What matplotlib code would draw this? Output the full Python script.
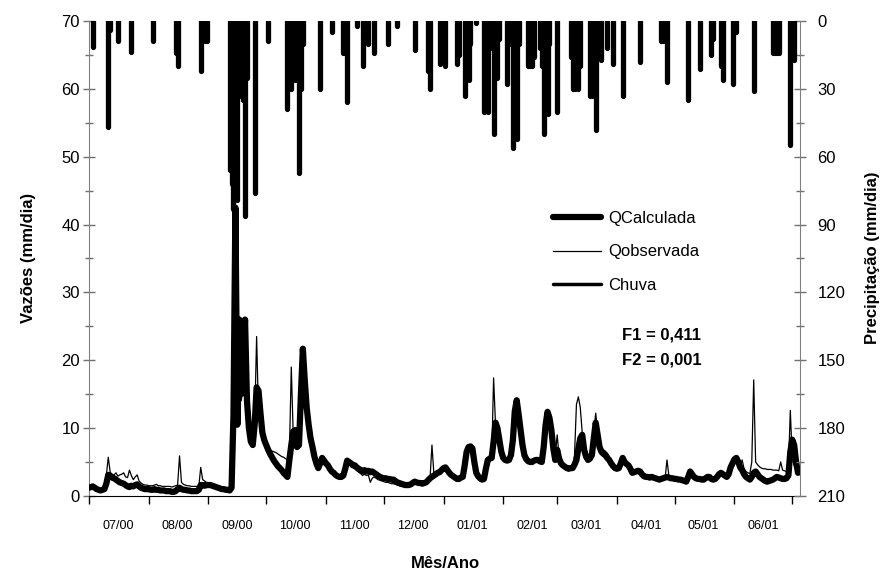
import numpy as np
import pandas as pd
import matplotlib
matplotlib.use("Agg")
import matplotlib.pyplot as plt
import matplotlib.dates as mdates
from matplotlib.lines import Line2D
from matplotlib.ticker import MultipleLocator, NullFormatter

plt.rcParams['font.family'] = ['Liberation Sans', 'DejaVu Sans']

inicio = '2000-07-01'

# vazao calculada (mm/dia), um valor por dia a partir de 01/07/2000
q_calc = [
    1.2, 1.3, 1.4, 1.2, 1.0, 0.9, 0.8, 0.9, 1.0, 1.8, 3.1, 3.0, 2.7, 2.6, 2.4, 2.2, 2.0, 1.9, 1.8, 1.6, 1.4, 1.3, 1.5, 1.4, 1.6, 1.7, 1.4, 1.2, 1.1, 1.0, 1.0,
    1.0, 0.9, 0.9, 1.0, 0.9, 0.9, 0.8, 0.8, 0.8, 0.7, 0.7, 0.7, 0.6, 0.6, 0.7, 1.0, 1.2, 1.0, 0.9, 0.9, 0.8, 0.8, 0.7, 0.7, 0.7, 0.7, 0.9, 1.6, 1.6, 1.5, 1.6,
    1.6, 1.6, 1.5, 1.4, 1.3, 1.2, 1.1, 1.0, 1.0, 0.9, 0.9, 0.8, 1.2, 12.0, 42.5, 10.5, 26.0, 15.0, 17.0, 26.0, 14.0, 10.0, 8.0, 7.5, 10.5, 16.0, 15.5, 12.2, 9.3, 8.2,
    7.5, 6.8, 6.2, 5.7, 5.2, 4.8, 4.4, 4.1, 3.8, 3.4, 3.1, 2.8, 5.3, 7.5, 9.5, 9.7, 7.2, 7.5, 15.0, 21.7, 17.0, 13.0, 10.5, 8.5, 7.2, 5.8, 4.8, 4.1, 4.8, 5.6, 5.2,
    4.8, 4.5, 4.0, 3.6, 3.4, 3.1, 2.9, 2.8, 2.8, 3.0, 4.0, 5.2, 5.0, 4.8, 4.5, 4.5, 4.2, 4.0, 3.8, 3.6, 3.8, 3.6, 3.7, 3.5, 3.6, 3.4, 3.2, 3.0, 2.8, 2.7,
    2.6, 2.6, 2.5, 2.5, 2.4, 2.4, 2.2, 2.0, 1.9, 1.8, 1.7, 1.6, 1.6, 1.6, 1.7, 1.9, 2.1, 2.0, 1.9, 1.9, 1.8, 1.9, 2.0, 2.3, 2.6, 2.8, 3.0, 3.2, 3.4, 3.5, 3.8,
    4.1, 4.2, 3.8, 3.4, 3.1, 2.9, 2.7, 2.5, 2.5, 2.7, 2.8, 4.5, 6.5, 7.2, 7.3, 7.0, 5.0, 3.4, 2.9, 2.6, 2.4, 2.5, 4.0, 5.3, 5.5, 5.6, 8.0, 10.8, 10.0, 8.2, 6.5,
    5.6, 5.3, 5.2, 5.3, 6.0, 8.2, 12.5, 14.1, 12.0, 9.7, 7.5, 6.0, 5.4, 5.1, 5.0, 5.0, 5.2, 5.3, 5.3, 5.1, 5.0, 7.2, 10.5, 12.4, 11.5, 9.7, 7.0, 5.3,
    6.8, 5.5, 4.8, 4.5, 4.3, 4.1, 4.0, 4.1, 4.1, 4.6, 5.3, 7.0, 8.5, 9.0, 6.8, 5.8, 5.3, 5.5, 6.0, 8.5, 10.8, 9.0, 7.2, 6.5, 6.2, 6.0, 5.6, 5.3, 4.8, 4.4, 4.1,
    4.0, 4.1, 4.8, 5.6, 5.0, 4.7, 4.5, 4.0, 3.4, 3.5, 3.6, 3.7, 3.6, 3.2, 2.9, 2.8, 2.8, 2.7, 2.8, 2.7, 2.6, 2.5, 2.4, 2.5, 2.6, 2.7, 2.8, 2.7, 2.6, 2.6,
    2.5, 2.5, 2.4, 2.4, 2.3, 2.2, 2.1, 2.8, 3.6, 3.2, 2.8, 2.6, 2.5, 2.5, 2.4, 2.4, 2.6, 2.8, 2.8, 2.5, 2.4, 2.5, 2.8, 3.2, 3.4, 3.2, 3.0, 2.8, 3.2, 4.2, 4.8,
    5.4, 5.6, 5.0, 4.2, 3.8, 3.2, 2.8, 2.6, 2.4, 2.8, 3.4, 3.6, 3.2, 2.8, 2.6, 2.4, 2.2, 2.1, 2.2, 2.3, 2.4, 2.6, 2.8, 2.7, 2.6, 2.5, 2.5, 2.6, 3.0, 6.5,
    8.3, 7.5, 5.0, 3.4,
]

# vazao observada (mm/dia)
q_obs = [
    1.3, 1.4, 1.3, 1.1, 1.0, 0.9, 1.0, 1.1, 1.3, 3.0, 5.7, 3.5, 3.0, 3.1, 3.4, 2.9, 3.1, 3.2, 3.4, 2.8, 2.7, 3.8, 3.0, 2.4, 2.8, 3.1, 2.2, 1.9, 1.7, 1.6, 1.6,
    1.5, 1.5, 1.5, 1.6, 1.7, 1.5, 1.5, 1.4, 1.4, 1.4, 1.4, 1.4, 1.3, 1.4, 1.5, 1.6, 5.9, 2.0, 1.7, 1.6, 1.5, 1.5, 1.4, 1.4, 1.4, 1.4, 1.4, 4.2, 2.4, 2.2, 2.0,
    1.9, 1.8, 1.7, 1.6, 1.5, 1.5, 1.4, 1.3, 1.2, 1.2, 1.1, 1.1, 1.5, 9.0, 40.0, 12.0, 25.5, 14.0, 16.0, 25.0, 13.0, 9.5, 8.0, 8.5, 11.0, 23.5, 12.0, 10.0, 9.5, 8.5,
    7.3, 7.0, 6.8, 6.6, 6.5, 6.4, 6.2, 6.0, 5.8, 5.7, 5.5, 5.3, 6.0, 19.0, 9.0, 9.5, 8.0, 9.0, 16.0, 20.5, 16.0, 12.0, 10.0, 8.0, 7.0, 5.8, 4.8, 4.2, 4.5, 5.2, 5.0,
    4.6, 4.3, 3.9, 3.5, 3.3, 3.1, 2.9, 2.8, 2.7, 2.9, 3.8, 5.3, 5.3, 4.6, 4.3, 4.0, 3.7, 3.5, 3.3, 3.0, 3.2, 3.0, 3.1, 2.0, 2.6, 2.8, 2.6, 2.4, 2.3, 2.2,
    2.1, 2.0, 2.0, 1.9, 1.8, 1.8, 1.7, 1.6, 1.5, 1.4, 1.4, 1.4, 1.3, 1.4, 1.5, 1.8, 2.0, 1.9, 1.8, 1.8, 1.8, 1.9, 2.0, 2.2, 2.5, 7.5, 3.3, 3.3, 3.4, 3.5, 3.8,
    4.0, 4.1, 3.7, 3.2, 2.9, 2.6, 2.4, 2.3, 2.3, 2.4, 2.6, 4.0, 6.0, 7.0, 7.0, 6.5, 4.0, 2.8, 2.4, 2.2, 2.2, 2.4, 4.5, 5.0, 5.2, 5.4, 17.4, 10.5, 9.5, 7.8, 6.3,
    5.4, 5.1, 5.0, 5.1, 5.8, 8.0, 12.8, 13.8, 11.5, 9.0, 7.0, 5.8, 5.2, 5.0, 4.9, 4.9, 5.0, 5.1, 5.1, 5.0, 4.9, 7.5, 10.8, 12.2, 11.0, 9.0, 7.0, 6.0,
    9.0, 5.8, 5.0, 4.6, 4.3, 4.1, 4.0, 4.0, 4.3, 6.0, 13.5, 14.6, 13.0, 9.3, 7.0, 6.0, 5.5, 5.6, 6.3, 9.5, 12.2, 9.5, 7.6, 7.0, 6.8, 6.6, 6.3, 5.8, 5.0, 4.6, 4.3,
    4.1, 4.1, 4.6, 5.3, 4.9, 4.6, 4.3, 3.9, 3.5, 3.5, 3.5, 3.5, 3.4, 3.1, 2.9, 2.8, 2.8, 2.7, 2.7, 2.6, 2.5, 2.5, 2.4, 2.4, 2.5, 2.6, 5.3, 2.9, 2.7, 2.6,
    2.5, 2.5, 2.4, 2.4, 2.3, 2.3, 2.3, 3.0, 3.4, 3.0, 2.8, 2.6, 2.5, 2.5, 2.4, 2.4, 2.6, 2.8, 2.8, 2.6, 2.5, 2.6, 2.9, 3.2, 3.6, 3.4, 3.2, 3.0, 3.4, 4.0, 4.5,
    5.0, 5.3, 5.0, 4.4, 5.3, 4.0, 3.6, 3.4, 3.3, 5.0, 17.1, 5.0, 4.6, 4.3, 4.1, 4.0, 4.0, 3.9, 3.9, 3.9, 3.8, 3.8, 3.8, 3.7, 5.0, 3.8, 3.7, 3.6, 4.0, 12.6,
    5.5, 4.5, 4.0, 3.6,
]

# dias com chuva (indice do dia) e total diario (mm)
rain_day = [2, 10, 11, 15, 22, 33, 45, 46, 58, 60,
            61, 73, 74, 75, 76, 77, 78, 79, 80, 81,
            82, 86, 93, 103, 104, 105, 107, 109, 110, 111,
            120, 126, 132, 133, 134, 139, 142, 145, 148, 155,
            160, 169, 176, 177, 182, 184, 185, 191, 192, 195,
            196, 197, 198, 201, 205, 206, 207, 208, 210, 211,
            212, 213, 217, 218, 220, 221, 222, 223, 228, 229,
            230, 231, 234, 235, 236, 237, 238, 239, 243, 250,
            251, 252, 253, 254, 255, 260, 261, 262, 263, 264,
            266, 269, 272, 277, 286, 297, 298, 299, 300, 311,
            317, 323, 324, 328, 329, 334, 336, 345, 355, 356,
            357, 358, 364, 366]
rain_mm = [11.5, 47, 4, 9, 13.5, 9, 14, 20, 22, 9,
           9, 66, 72, 83, 60, 79, 33, 30, 35, 86,
           25, 76, 9, 39, 20, 30, 26, 67, 30, 10,
           30, 5, 14, 14, 36, 2, 20, 10, 14, 10,
           2, 13, 22, 30, 19, 10, 20, 19, 15, 33,
           20, 26, 10, 1, 40, 15, 40, 12, 50, 20,
           25, 8, 28, 10, 56, 30, 52, 10, 20, 20,
           20, 16, 12, 20, 50, 30, 41, 10, 40, 16,
           30, 30, 25, 30, 20, 33, 33, 20, 48, 15,
           17, 12, 19, 33, 18, 9, 9, 9, 27, 35,
           21, 15, 8, 20, 26, 28, 5, 31, 14, 14,
           14, 14, 55, 17]

dias = pd.date_range(inicio, periods=len(q_calc), freq='D')
dias_chuva = dias[rain_day]

fig = plt.figure(figsize=(8.81, 5.70), dpi=100)
ax = fig.add_axes([0.101, 0.130, 0.807, 0.833])
ax2 = ax.twinx()

l_calc, = ax.plot(dias, q_calc, color='black', lw=4.5,
                  solid_joinstyle='round', solid_capstyle='round', zorder=3)
l_obs, = ax.plot(dias, q_obs, color='black', lw=0.9, zorder=4)
ax2.vlines(dias_chuva, 0, rain_mm, color='black', lw=3.8, capstyle='round')

# eixo das vazoes
ax.set_ylim(0, 70)
ax.yaxis.set_major_locator(MultipleLocator(10))
ax.yaxis.set_minor_locator(MultipleLocator(5))
ax.tick_params(axis='y', which='major', direction='inout', length=9, width=1,
               color='#707070', labelsize=12, pad=2)
ax.tick_params(axis='y', which='minor', direction='inout', length=6, width=1,
               color='#707070')

# eixo da precipitacao, invertido
ax2.set_ylim(210, 0)
ax2.yaxis.set_major_locator(MultipleLocator(30))
ax2.yaxis.set_minor_locator(MultipleLocator(15))
ax2.tick_params(axis='y', which='major', direction='inout', length=9, width=1,
                color='#707070', labelsize=12, pad=8)
ax2.tick_params(axis='y', which='minor', direction='inout', length=6, width=1,
                color='#707070')

# eixo dos meses
ax.set_xlim(pd.Timestamp('2000-07-01'), pd.Timestamp('2001-07-05'))
ax.xaxis.set_major_locator(mdates.MonthLocator())
ax.xaxis.set_major_formatter(NullFormatter())
ax.xaxis.set_minor_locator(mdates.MonthLocator(bymonthday=16))
ax.xaxis.set_minor_formatter(mdates.DateFormatter('%m/%y'))
ax.tick_params(axis='x', which='major', direction='out', length=6, width=1,
               color='black')
ax.tick_params(axis='x', which='minor', length=0, labelsize=9, pad=17)

for a in (ax, ax2):
    a.spines['top'].set_visible(False)
ax.spines['right'].set_visible(False)
ax2.spines['left'].set_visible(False)
ax2.spines['bottom'].set_visible(False)
ax.spines['left'].set_color('#808080')
ax2.spines['right'].set_color('#808080')
ax.spines['bottom'].set_color('black')

fig.text(28 / 881, 0.547, 'Vazões (mm/dia)', rotation=90, ha='center', va='center',
         fontsize=12, fontweight='bold')
fig.text(873 / 881, 0.547, 'Precipitação (mm/dia)', rotation=90, ha='center',
         va='center', fontsize=12, fontweight='bold')
fig.text(445 / 881, 0.004, 'Mês/Ano', ha='center', va='baseline',
         fontsize=12, fontweight='bold')

fig.text(622 / 881, 1 - 335 / 570, 'F1 = 0,411', va='center', fontsize=12,
         fontweight='bold')
fig.text(622 / 881, 1 - 360 / 570, 'F2 = 0,001', va='center', fontsize=12,
         fontweight='bold')

l_chuva = Line2D([], [], color='black', lw=2.5, solid_capstyle='round')
ax2.legend([l_calc, l_obs, l_chuva], ['QCalculada', 'Qobservada', 'Chuva'],
           loc='upper left', bbox_to_anchor=(0.6526, 0.600), frameon=False,
           fontsize=12, handlelength=2.9, handletextpad=0.4, labelspacing=1.1,
           borderpad=0, borderaxespad=0)

fig.savefig('out.png', dpi=100)
